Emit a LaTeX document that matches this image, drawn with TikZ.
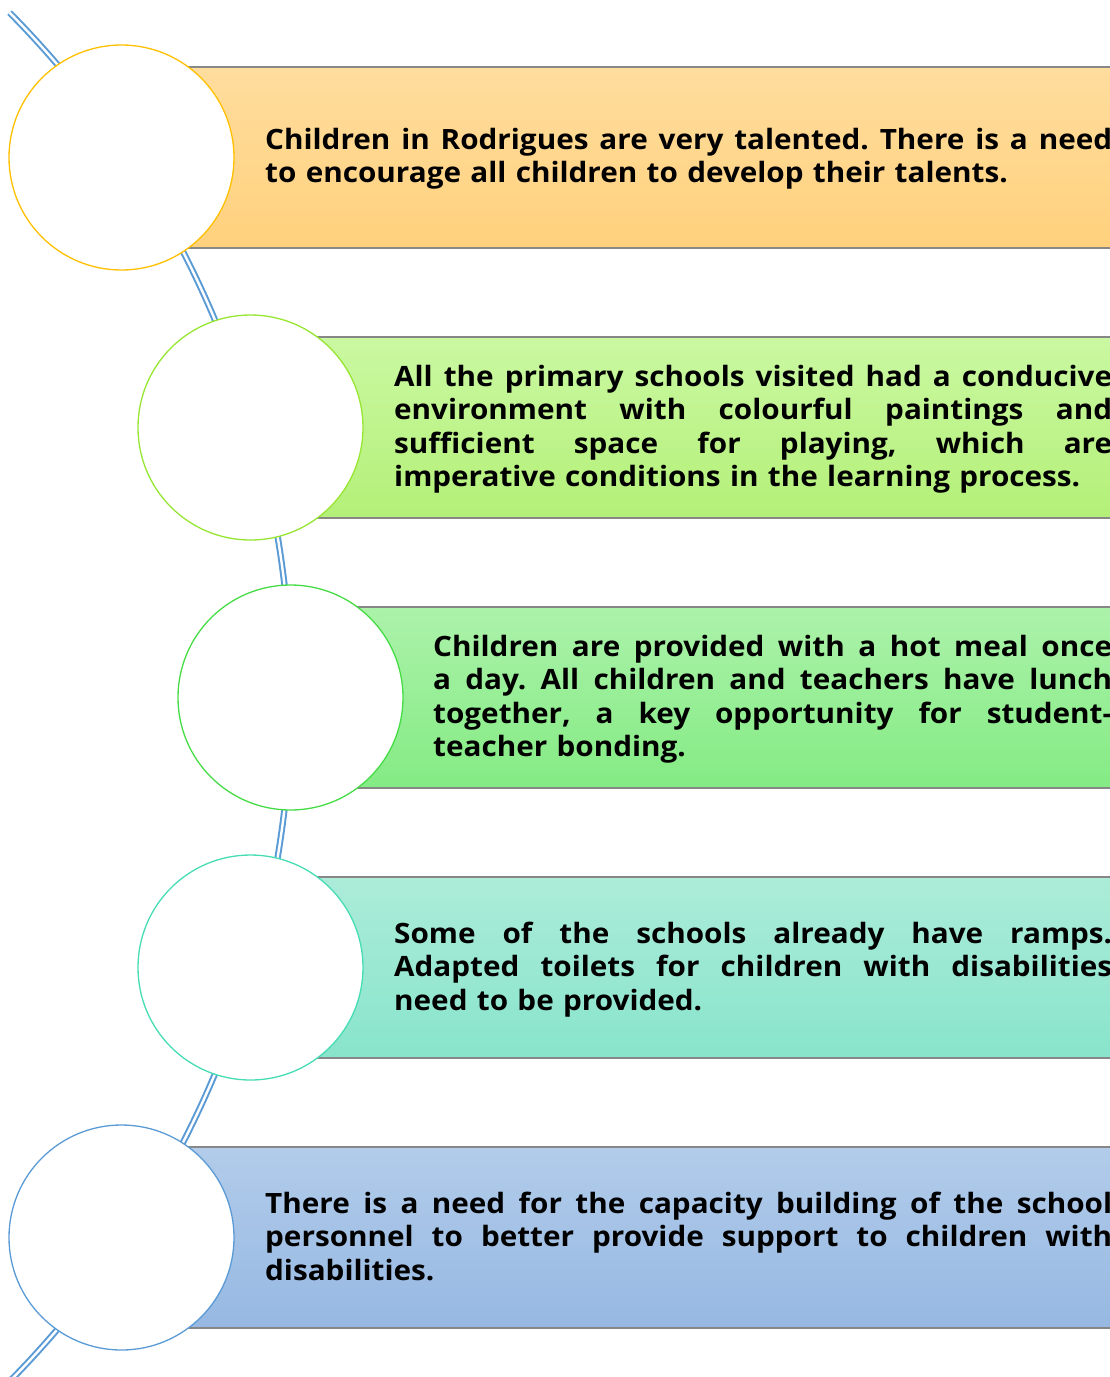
\documentclass[tikz,border=0pt]{standalone}
\usepackage{fontspec}
\setmainfont{Open Sans}[FakeStretch=1.06]
\definecolor{spineblue}{RGB}{91,155,213}
\definecolor{rimgray}{RGB}{135,135,135}
\definecolor{cA}{RGB}{255,192,0}
\definecolor{cB}{RGB}{150,230,50}
\definecolor{cC}{RGB}{70,220,70}
\definecolor{cD}{RGB}{70,220,180}
\definecolor{cE}{RGB}{91,155,213}
\definecolor{bAt}{RGB}{255,221,158}
\definecolor{bAb}{RGB}{255,209,125}
\definecolor{bBt}{RGB}{202,248,162}
\definecolor{bBb}{RGB}{180,240,120}
\definecolor{bCt}{RGB}{172,242,170}
\definecolor{bCb}{RGB}{132,235,132}
\definecolor{bDt}{RGB}{172,236,216}
\definecolor{bDb}{RGB}{136,228,204}
\definecolor{bEt}{RGB}{178,204,234}
\definecolor{bEb}{RGB}{150,184,226}
\newcommand\jl[2]{\leavevmode\hbox to #1pt{\spaceskip=0.26em plus 1fil\relax #2}}
\frenchspacing
\begin{document}
\begin{tikzpicture}[x=1pt,y=-1pt,
  bubble/.style={circle, draw, line width=1.3pt, fill=white, minimum size=225pt, inner sep=0pt},
  band/.style={rectangle, minimum height=180pt, inner sep=0pt, anchor=west},
  rimline/.style={draw=rimgray, line width=1.8pt},
  txt/.style={anchor=base west, inner sep=0pt, align=left, font=\bfseries\fontsize{28}{33.5}\selectfont},
  spine/.style={draw=spineblue, line width=2pt, double=white, double distance=2.4pt}]
\useasboundingbox (0,0) rectangle (1110,1377);
\clip (0,0) rectangle (1110,1377);
% bands
\node[band, minimum width=1000pt, top color=bAt, bottom color=bAb] (b1) at (121.5,157.5) {};
\node[band, minimum width=870pt, top color=bBt, bottom color=bBb] (b2) at (250.5,427.5) {};
\node[band, minimum width=830pt, top color=bCt, bottom color=bCb] (b3) at (290.5,697.5) {};
\node[band, minimum width=870pt, top color=bDt, bottom color=bDb] (b4) at (250.5,967.5) {};
\node[band, minimum width=1000pt, top color=bEt, bottom color=bEb] (b5) at (121.5,1237.5) {};
\foreach \b in {b1,b2,b3,b4,b5}{
  \draw[rimline] (\b.north west) -- (\b.north east);
  \draw[rimline] (\b.south west) -- (\b.south east);
}
% spine arc
\draw[spine] plot[smooth, domain=-44.7:45, samples=80] ({-682+973*cos(\x)},{697+973*sin(\x)});
% circles
\node[bubble, draw=cA] (c1) at (121.5,157.5) {};
\node[bubble, draw=cB] (c2) at (250.5,427.5) {};
\node[bubble, draw=cC] (c3) at (290.5,697.5) {};
\node[bubble, draw=cD] (c4) at (250.5,967.5) {};
\node[bubble, draw=cE] (c5) at (121.5,1237.5) {};
% texts
\node[txt, text width=847pt] (t1) at (265,149) {\jl{847}{Children in Rodrigues are very talented. There is a need}\\to encourage all children to develop their talents.};
\node[txt, text width=718pt] (t2) at (394,386) {\jl{718}{All the primary schools visited had a conducive}\\\jl{718}{environment with colourful paintings and}\\\jl{718}{sufficient space for playing, which are}\\imperative conditions in the learning process.};
\node[txt, text width=679pt] (t3) at (433,656) {\jl{679}{Children are provided with a hot meal once}\\\jl{679}{a day. All children and teachers have lunch}\\\jl{679}{together, a key opportunity for student-}\\teacher bonding.};
\node[txt, text width=718pt] (t4) at (394,943) {\jl{718}{Some of the schools already have ramps.}\\\jl{718}{Adapted toilets for children with disabilities}\\need to be provided.};
\node[txt, text width=847pt] (t5) at (265,1213) {\jl{847}{There is a need for the capacity building of the school}\\\jl{847}{personnel to better provide support to children with}\\disabilities.};
\end{tikzpicture}
\end{document}
